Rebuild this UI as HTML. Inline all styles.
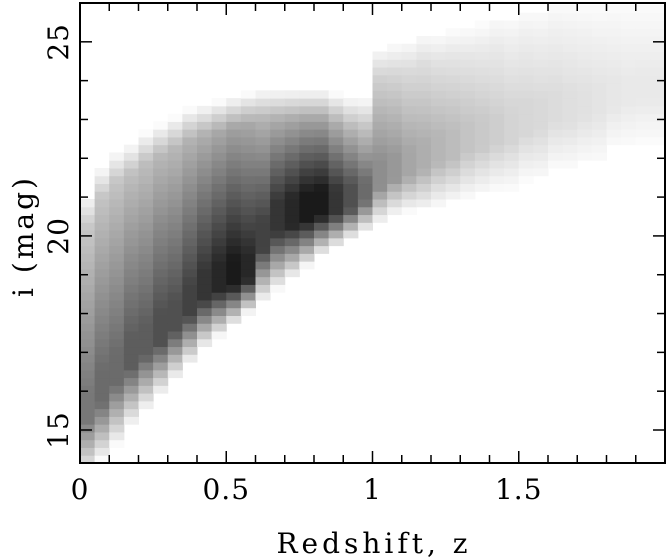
<!DOCTYPE html>
<html><head><meta charset="utf-8"><style>
html,body{margin:0;padding:0;background:#fff;}
svg{display:block;}
text{font-family:"DejaVu Serif","Liberation Serif",serif;fill:#000;}
</style></head><body>
<svg id="chart" width="669" height="558">
<g id="cells"></g>
<g id="axes"></g>
</svg>
<script>
// column bins in redshift (left edges), width 0.05
const zBins = [0.00,0.05,0.10,0.15,0.20,0.25,0.30,0.35,0.40,0.45,0.50,0.55,0.60,0.65,0.70,0.75,0.80,0.85,0.90,0.95,1.00,1.05,1.10,1.15,1.20,1.25,1.30,1.35,1.40,1.45,1.50,1.55,1.60,1.65,1.70,1.75,1.80,1.85,1.90,1.95];
// bright edge of distribution (mag) per column
const brightEdge = [14.2,14.6,15.0,15.5,15.9,16.3,16.7,17.1,17.5,17.8,18.1,18.4,18.7,19.0,19.3,19.6,19.9,20.1,20.3,20.5,20.7,20.9,21.0,21.0,21.1,21.2,21.3,21.4,21.5,21.5,21.7,21.7,22.0,22.0,22.1,22.1,22.5,22.5,22.6,22.6];
// ridge (densest) magnitude per column
const ridgeMag = [16.0,16.5,17.0,17.4,17.7,18.0,18.3,18.7,19.1,19.3,19.4,19.5,20.4,20.9,21.0,21.1,21.2,21.2,21.3,21.4,21.9,22.1,22.2,22.4,22.6,22.7,22.9,23.0,23.1,23.2,23.4,23.5,23.7,23.7,23.8,23.9,24.0,24.1,24.2,24.2];
// peak darkness (0-9) per column
const peakDark = [5,5.5,5.5,6,6,6.5,6.5,7,7.5,8,8.5,8,7,7.5,8,8.5,8.5,7.5,6.5,5.5,4.2,3.8,3.3,3,2.7,2.5,2.2,2,1.8,1.6,1.5,1.4,1.3,1.2,1.1,1,0.9,0.8,0.8,0.8];
// faint extent (mag) per column
const faintEdge = [20.3,21.0,21.4,21.6,21.9,22.1,22.3,22.5,22.6,22.7,22.8,22.9,23.0,23.0,23.0,23.0,23.0,22.9,22.8,22.8,24.1,24.2,24.3,24.5,24.5,24.6,24.7,24.8,25.0,25.0,25.2,25.2,25.4,25.4,25.4,25.4,25.5,25.5,25.5,25.5];
const xTicks = ["0","0.5","1","1.5"];
const xTickVals = [0,0.5,1,1.5];
const yTicks = ["15","20","25"];
const yTickVals = [15,20,25];

const X0=80,X1=665,Y0=3,Y1=463;
const zMin=0,zMax=2.0,mMin=14.15,mMax=26.0;
const xs=z=>X0+(z-zMin)/(zMax-zMin)*(X1-X0);
const ys=m=>Y1-(m-mMin)/(mMax-mMin)*(Y1-Y0);
const NS='http://www.w3.org/2000/svg';
const cells=document.getElementById('cells');
const dm=0.2;
for(let i=0;i<zBins.length;i++){
  const b=brightEdge[i],r=ridgeMag[i],p=peakDark[i],f=faintEdge[i];
  for(let m=mMin;m<mMax;m+=dm){
    const mc=m+dm/2;let d=0;
    if(mc<b-0.4)d=0;
    else if(mc<r){const t=Math.min(1,(mc-b+0.4)/Math.max(0.8,(r-b)*0.8));d=p*t;}
    else if(mc<f){d=p*(1-0.6*(mc-r)/Math.max(0.3,f-r));}
    else if(mc<f+0.8){d=p*0.4*(1-(mc-f)/0.8);}
    if(d<0.15)continue;
    const g=Math.round(255-d*27);
    const rc=document.createElementNS(NS,'rect');
    
    
    const x=xs(zBins[i]),w=xs(zBins[i]+0.05)-x;
    const y=ys(Math.min(m+dm,mMax)),h=ys(m)-y;
    rc.setAttribute('x',x);rc.setAttribute('y',y);
    rc.setAttribute('width',w+0.5);rc.setAttribute('height',h+0.5);
    rc.setAttribute('fill',`rgb(${g},${g},${g})`);
    cells.appendChild(rc);
  }
}
const axes=document.getElementById('axes');
function line(x1,y1,x2,y2,name){
  const l=document.createElementNS(NS,'line');
  
  
  l.setAttribute('x1',x1);l.setAttribute('y1',y1);l.setAttribute('x2',x2);l.setAttribute('y2',y2);
  l.setAttribute('stroke','#000');l.setAttribute('stroke-width','1.5');
  axes.appendChild(l);
}
const fr=document.createElementNS(NS,'rect');


fr.setAttribute('x',X0);fr.setAttribute('y',Y0);fr.setAttribute('width',X1-X0);fr.setAttribute('height',Y1-Y0);
fr.setAttribute('fill','none');fr.setAttribute('stroke','#000');fr.setAttribute('stroke-width','2');
axes.appendChild(fr);
for(let k=1;k<20;k++){const z=k*0.1,x=xs(z),L=(k%5==0)?12:8;
  line(x,Y1,x,Y1-L,'x-tick');line(x,Y0,x,Y0+L,'x-tick-top');}
for(let m=15;m<=26;m++){const y=ys(m),L=(m%5==0)?12:8;
  line(X0,y,X0+L,y,'y-tick');line(X1,y,X1-L,y,'y-tick-right');}
function txt(s,x,y,name,rot,sp){
  const t=document.createElementNS(NS,'text');
  
  
  t.setAttribute('x',x);t.setAttribute('y',y);t.setAttribute('font-size','28');
  t.setAttribute('letter-spacing',sp||'1');
  t.setAttribute('text-anchor','middle');
  if(rot)t.setAttribute('transform',`rotate(-90 ${x} ${y})`);
  t.textContent=s;axes.appendChild(t);
}
for(let i=0;i<xTicks.length;i++)txt(xTicks[i],xs(xTickVals[i]),499,'x-tick-label');
for(let i=0;i<yTicks.length;i++)txt(yTicks[i],68,ys(yTickVals[i]),'y-tick-label',true);
txt('Redshift, z',374,553,'x-axis-title',false,'4');
txt('i (mag)',33,236,'y-axis-title',true,'3');
</script>
</body></html>
